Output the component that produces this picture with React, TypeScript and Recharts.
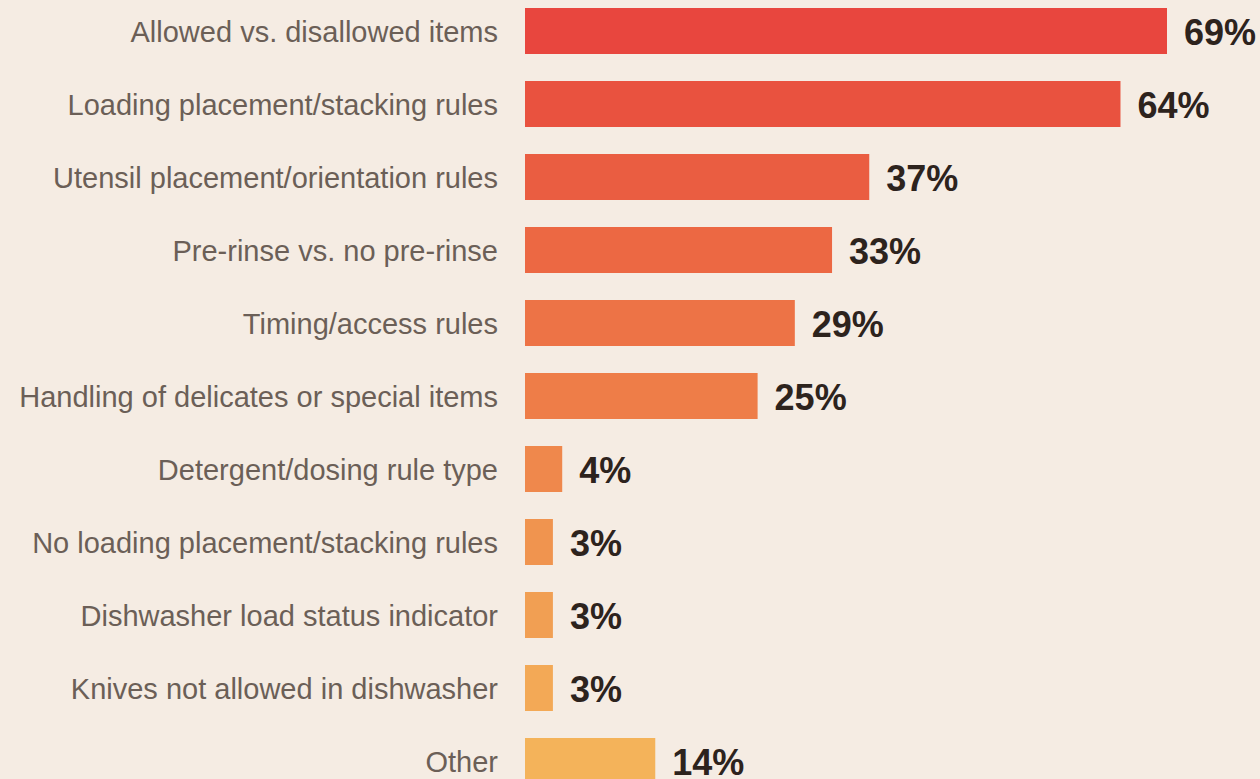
import { BarChart, Bar, XAxis, YAxis, Cell, LabelList } from 'recharts';

const categories = [
  'Allowed vs. disallowed items',
  'Loading placement/stacking rules',
  'Utensil placement/orientation rules',
  'Pre-rinse vs. no pre-rinse',
  'Timing/access rules',
  'Handling of delicates or special items',
  'Detergent/dosing rule type',
  'No loading placement/stacking rules',
  'Dishwasher load status indicator',
  'Knives not allowed in dishwasher',
  'Other',
];

const shares = [69, 64, 37, 33, 29, 25, 4, 3, 3, 3, 14];

const palette = [
  '#e8463e',
  '#e9523f',
  '#ea5d41',
  '#ec6843',
  '#ed7346',
  '#ee7d48',
  '#ef884c',
  '#f0944f',
  '#f19f53',
  '#f3a956',
  '#f4b35a',
];

const data = categories.map((name, i) => ({ name, value: shares[i] }));

export default function App() {
  return (
    <div
      style={{
        position: 'fixed',
        left: 0,
        top: 0,
        width: 1260,
        height: 779,
        overflow: 'hidden',
        background: '#f5ece3',
      }}
    >
      <div style={{ position: 'absolute', left: 0, top: -6 }}>
        <BarChart
          width={1260}
          height={803}
          data={data}
          layout="vertical"
          margin={{ top: 0, right: 93, bottom: 0, left: 0 }}
          barSize={46}
        >
          <XAxis type="number" domain={[0, 69]} hide />
          <YAxis
            type="category"
            dataKey="name"
            width={525}
            axisLine={false}
            tickLine={false}
            tickSize={0}
            tickMargin={27}
            tick={{ fontSize: 29, fill: '#6b5f57', fontFamily: 'Liberation Sans, Arial, sans-serif', dy: 1 }}
          />
          <Bar dataKey="value" isAnimationActive={false}>
            {data.map((d, i) => (
              <Cell key={d.name} fill={palette[i]} />
            ))}
            <LabelList
              dataKey="value"
              position="right"
              offset={17}
              formatter={(v: any) => `${v}%`}
              style={{
                fontSize: 36,
                fontWeight: 700,
                fill: '#2d231d',
                fontFamily: 'Liberation Sans, Arial, sans-serif',
                transform: 'translateY(1px)',
              }}
            />
          </Bar>
        </BarChart>
      </div>
    </div>
  );
}
